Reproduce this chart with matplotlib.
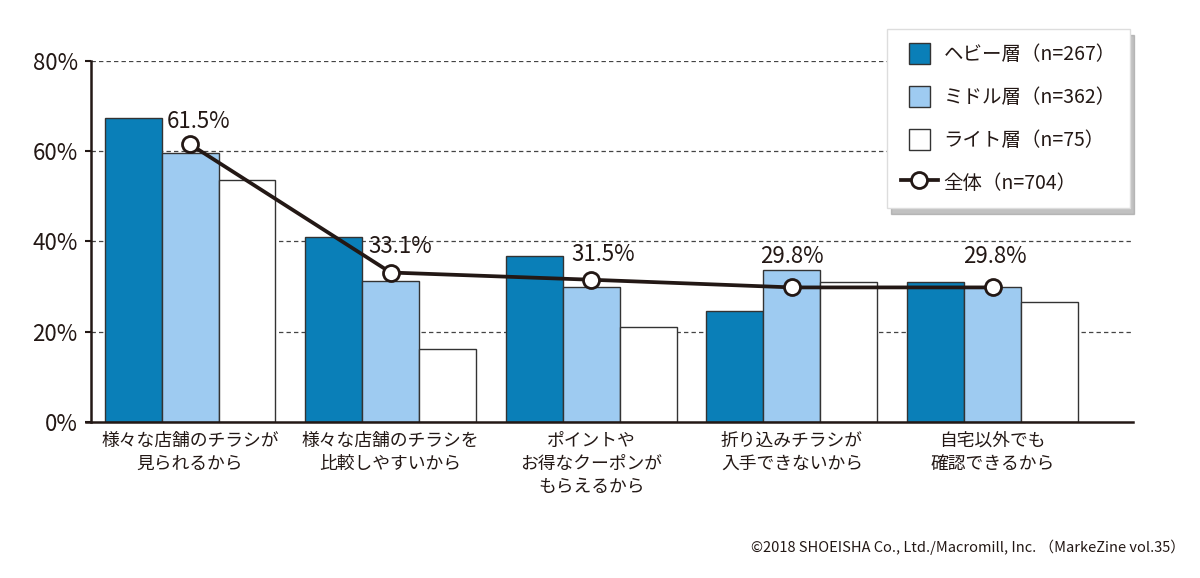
import matplotlib
matplotlib.use("Agg")
import matplotlib.pyplot as plt
import numpy as np
from matplotlib.patches import Rectangle, Patch
from matplotlib.legend_handler import HandlerPatch
from matplotlib.lines import Line2D

plt.rcParams['font.family'] = ['Noto Sans CJK JP', 'DejaVu Sans']

categories = [
    "様々な店舗のチラシが\n見られるから",
    "様々な店舗のチラシを\n比較しやすいから",
    "ポイントや\nお得なクーポンが\nもらえるから",
    "折り込みチラシが\n入手できないから",
    "自宅以外でも\n確認できるから",
]
series_names = ["ヘビー層（n=267）", "ミドル層（n=362）", "ライト層（n=75）"]
heavy = [67.4, 40.9, 36.8, 24.6, 30.9]
middle = [59.5, 31.2, 30.0, 33.6, 30.0]
light = [53.6, 16.1, 21.0, 30.9, 26.5]
total_name = "全体（n=704）"
total = [61.5, 33.1, 31.5, 29.8, 29.8]
yticks = [0, 20, 40, 60, 80]
ytick_labels = ["0%", "20%", "40%", "60%", "80%"]
copyright_text = "©2018 SHOEISHA Co., Ltd./Macromill, Inc. （MarkeZine vol.35）"

# label offsets (points) for value labels
label_offsets = [(5.8, 11.5), (7.2, 14.4), (8.6, 13.7), (0.0, 17.3), (1.4, 17.3)]

colors = ["#0a7fb8", "#9ecbf1", "#ffffff"]
ink = "#231815"

fig = plt.figure(figsize=(12, 5.78), dpi=100)
ax = fig.add_axes([90.7/1200, 1-422/578, (1133-90.7)/1200, (422-60.7)/578])

x = np.arange(len(categories))
w = 0.284
for i, (vals, c) in enumerate(zip([heavy, middle, light], colors)):
    ax.bar(x + (i-1)*w, vals, w, color=c, edgecolor="#333333", linewidth=1.0,
           zorder=2)

ax.plot(x, total, color=ink, lw=2.7, marker='o', ms=11.5, mfc='white', mec=ink,
        mew=2.0, zorder=4)

for xi, v, off in zip(x, total, label_offsets):
    ax.annotate(f"{v:.1f}%", (xi, v), xytext=off, textcoords='offset points',
                ha='center', va='baseline', fontsize=16, color=ink, zorder=5)

ax.set_xlim(-0.495, 4.70)
ax.set_ylim(0, 80)
ax.set_yticks(yticks)
ax.set_yticklabels(ytick_labels)
ax.set_xticks(x)
ax.set_xticklabels(categories, fontsize=12.8, linespacing=1.38, color=ink)
ax.tick_params(axis='x', length=0, pad=7)
ax.tick_params(axis='y', length=4.3, width=1.5, color=ink, labelsize=16,
               labelcolor=ink, pad=5)

for g in [20, 40, 60, 80]:
    ax.axhline(g, color="#444444", lw=0.9, ls=(0, (3.5, 2.5)), zorder=1)

for s in ['top', 'right']:
    ax.spines[s].set_visible(False)
ax.spines['left'].set_linewidth(1.8)
ax.spines['bottom'].set_linewidth(1.8)
ax.spines['left'].set_color(ink)
ax.spines['bottom'].set_color(ink)
ax.spines['bottom'].set_bounds(-0.52, 4.70)

def square_patch(legend, orig_handle, xdescent, ydescent, width, height, fontsize):
    return Rectangle((-xdescent + (width - height) / 2, -ydescent), height, height)

handles = [Patch(facecolor=c, edgecolor="#333333", linewidth=1.0) for c in colors]
handles.append(Line2D([], [], color=ink, lw=2.7, marker='o', ms=11.5, mfc='white',
                      mec=ink, mew=2.0))
labels = series_names + [total_name]
leg = ax.legend(handles, labels, loc='upper right',
                bbox_to_anchor=(1130/1200, 1-29/578), bbox_transform=fig.transFigure,
                borderaxespad=0, fontsize=14, handlelength=1.9, handleheight=1.28,
                handletextpad=0.3, labelspacing=1.08, borderpad=0.72,
                frameon=True, fancybox=False, framealpha=1, edgecolor="#dddddd",
                shadow={'ox': 3, 'oy': -4, 'color': '#999999', 'alpha': 0.6},
                handler_map={Patch: HandlerPatch(patch_func=square_patch)})
leg.set_zorder(10)
for t in leg.get_texts():
    t.set_color(ink)

fig.text(1185/1200, 1-547/578, copyright_text, ha='right', va='center', fontsize=10.5,
         color=ink, family=['Liberation Sans Narrow', 'Noto Sans CJK JP', 'DejaVu Sans'])

fig.savefig("out.png", dpi=100)
